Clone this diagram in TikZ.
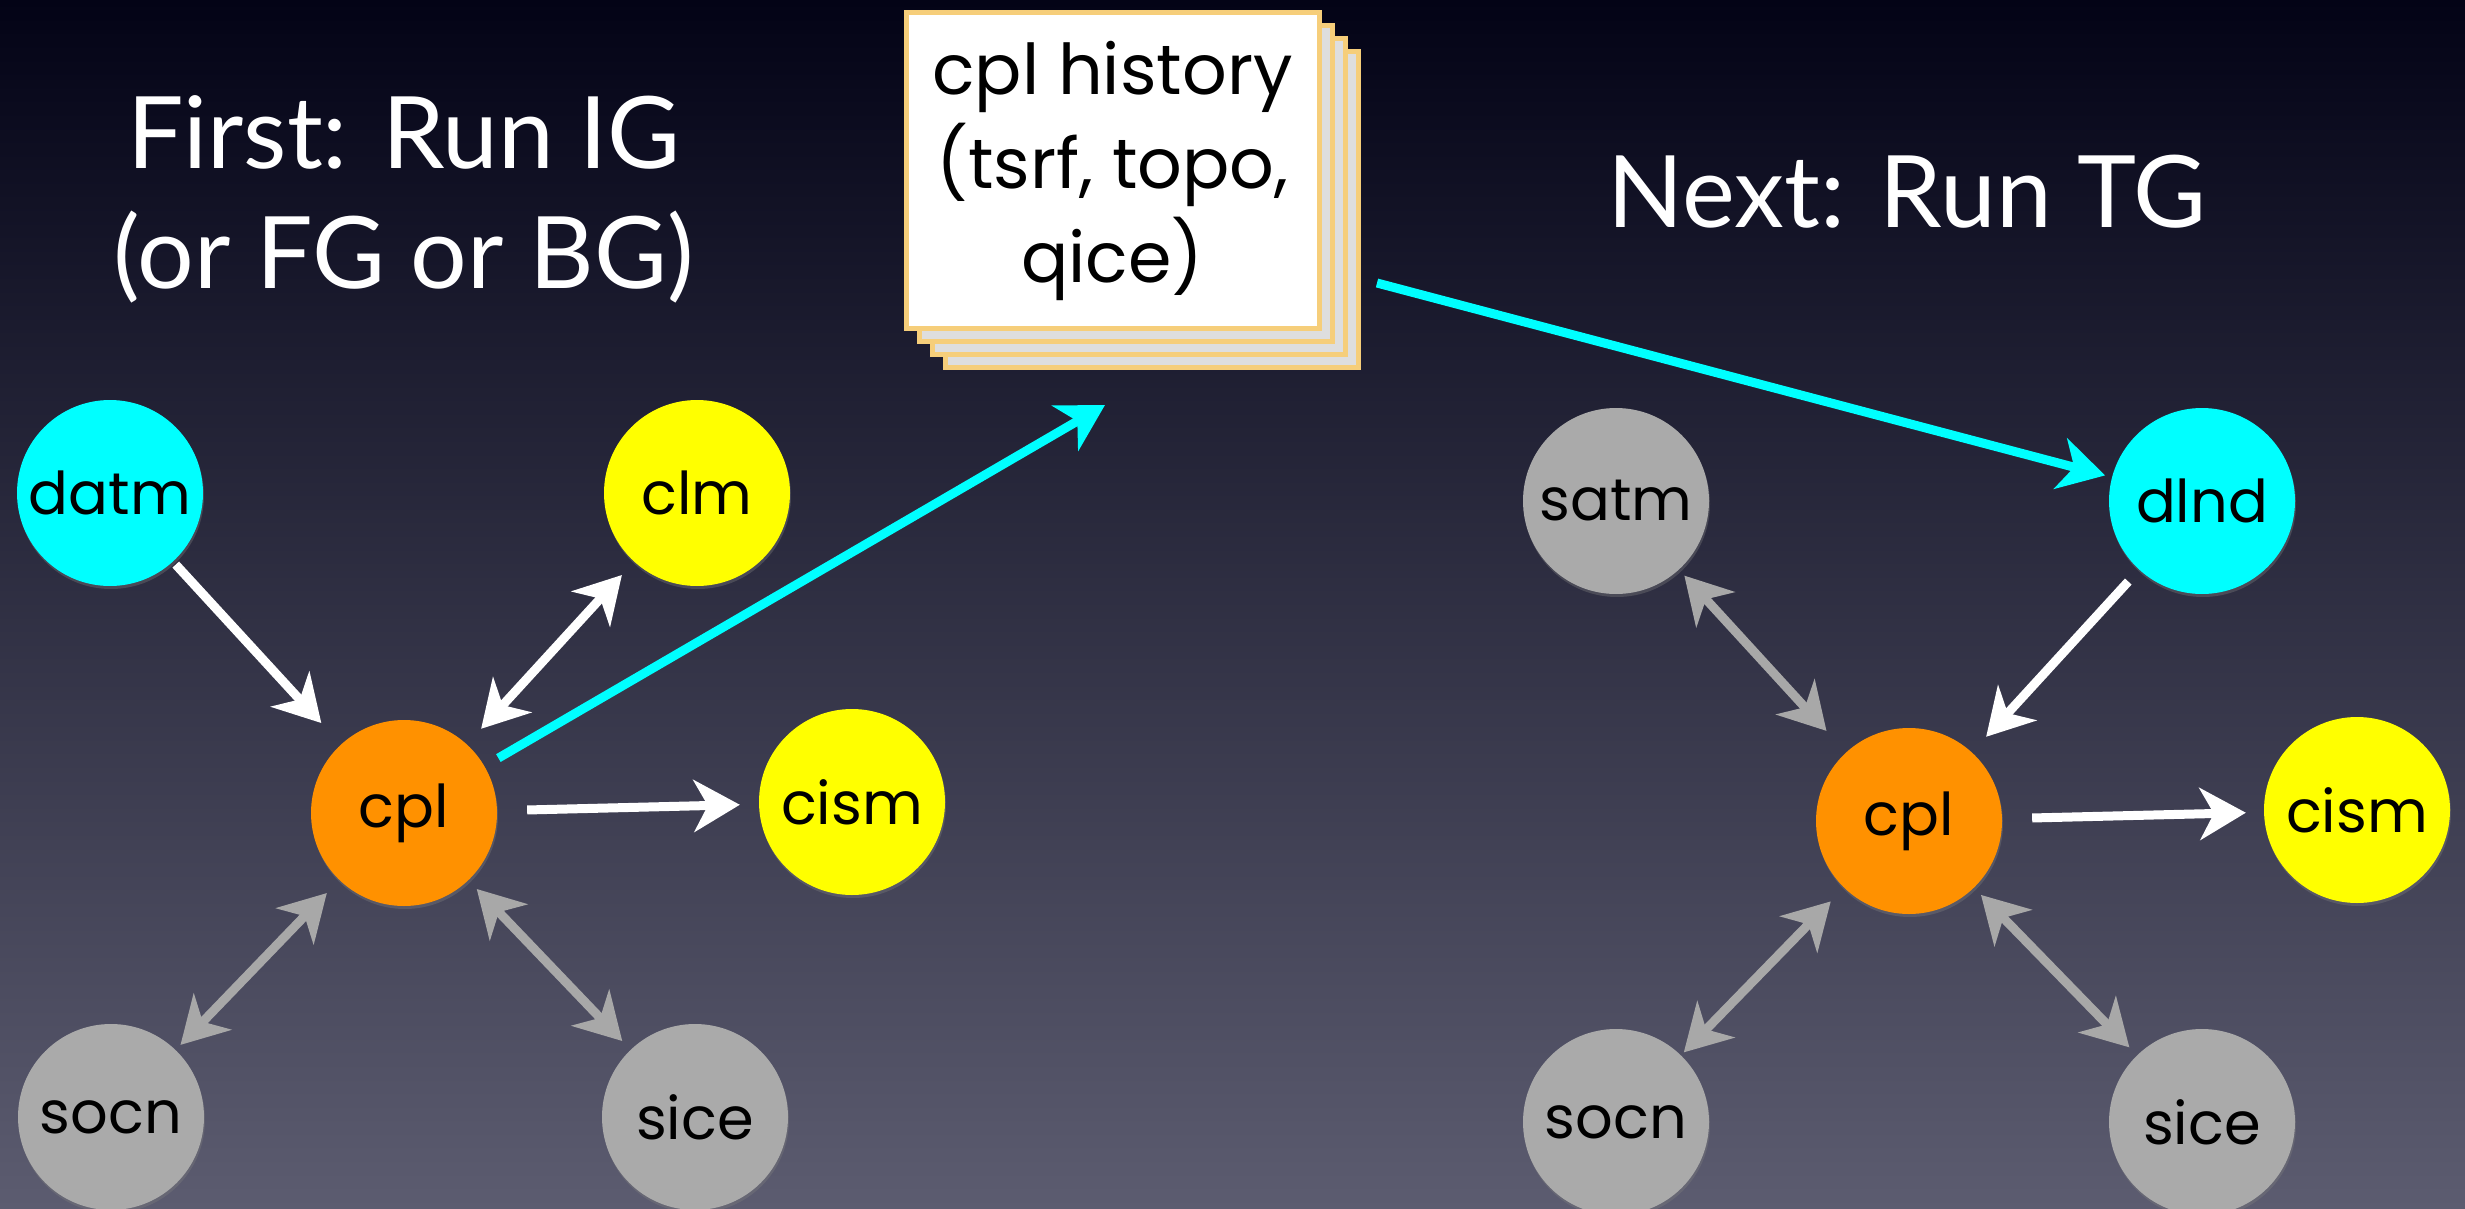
\documentclass[tikz,border=0pt]{standalone}
\usepackage{fontspec}
\setmainfont{Lato}
\newfontfamily\chalk{Poppins}
\usetikzlibrary{arrows.meta,shadows}

\definecolor{bgtop}{RGB}{3,3,22}
\definecolor{bgmid}{RGB}{48,48,72}
\definecolor{bgbot}{RGB}{92,92,112}
\definecolor{compcyan}{RGB}{0,255,255}
\definecolor{compyellow}{RGB}{255,255,0}
\definecolor{comporange}{RGB}{255,145,0}
\definecolor{compgray}{RGB}{170,170,170}
\definecolor{linkgray}{RGB}{168,168,168}
\definecolor{sheetedge}{RGB}{246,206,122}

\tikzset{
  comp/.style={circle, minimum size=186pt, inner sep=0pt,
               drop shadow={opacity=0.35, shadow xshift=1pt, shadow yshift=-3pt},
               font=\chalk\fontsize{59}{66}\selectfont},
  compdata/.style={comp, fill=compcyan},
  compactive/.style={comp, fill=compyellow},
  compstub/.style={comp, fill=compgray},
  compcpl/.style={comp, fill=comporange},
  flowline/.style={draw=white, line width=9pt},
  linkline/.style={draw=linkgray, line width=9pt},
  histline/.style={draw=compcyan, line width=9pt},
  sheet/.style={draw=sheetedge, line width=5pt, fill={rgb,255:red,222;green,222;blue,222}},
  slidetitle/.style={text=white, font=\fontsize{100}{120}\selectfont, align=center},
}

\begin{document}
\begin{tikzpicture}[x=1pt, y=-1pt, >={Stealth[length=46pt,width=52pt,inset=14pt]}]
    \useasboundingbox (0,0) rectangle (2465,1209);
    % Background:
    \shade[top color=bgtop, middle color=bgmid, bottom color=bgbot] (0,0) rectangle (2465,1209);

    % Titles (base = last line):
    \node[slidetitle, anchor=base] (first) at (404,288) {First: Run IG\\(or FG or BG)};
    \node[slidetitle, anchor=base] (next) at (1907,228) {Next: Run TG};

    % The stack of history files, back sheets first:
    \foreach \k in {3,2,1}{%
        \draw[sheet] (906+13*\k,13+13*\k) rectangle (1319+13*\k,328+13*\k);}
    \node[sheet, fill=white, minimum width=413pt, minimum height=315pt, align=center,
          font=\chalk\fontsize{70}{94}\selectfont] (hist) at (1112.5,170.5)
          {cpl history\\(tsrf, topo,\\qice)};
    \coordinate (histin) at (1105,405);
    \coordinate (histout) at (1377,283);

    % First run:
    \node[compdata]   (datm) at (110,493)  {datm};
    \node[compactive] (clm)  at (697,493)  {clm};
    \node[compcpl]    (cpl)  at (404,813)  {cpl};
    \node[compactive] (cism) at (852,802)  {cism};
    \node[compstub]   (socn) at (111,1117) {socn};
    \node[compstub]   (sice) at (695,1117) {sice};

    \draw[flowline, ->, shorten <=4pt, shorten >=29pt] (datm) -- (cpl);
    \draw[flowline, <->, shorten <=21pt, shorten >=18pt] (cpl) -- (clm);
    \draw[flowline, ->, shorten <=30pt, shorten >=19pt] (cpl) -- (cism);
    \draw[linkline, <->, shorten <=18pt, shorten >=7pt] (cpl) -- (socn);
    \draw[linkline, <->, shorten <=12pt, shorten >=12pt] (cpl) -- (sice);
    \draw[histline, ->, shorten <=16pt] (cpl) -- (histin);

    % Next run:
    \node[compstub]   (satm)  at (1616,501)  {satm};
    \node[compdata]   (dlnd)  at (2202,501)  {dlnd};
    \node[compcpl]    (cpl2)  at (1909,821)  {cpl};
    \node[compactive] (cism2) at (2357,810)  {cism};
    \node[compstub]   (socn2) at (1616,1122) {socn};
    \node[compstub]   (sice2) at (2202,1122) {sice};

    \draw[histline, ->, shorten >=7pt] (histout) -- (dlnd);
    \draw[flowline, ->, shorten <=16pt, shorten >=21pt] (dlnd) -- (cpl2);
    \draw[linkline, <->, shorten <=29pt, shorten >=8pt] (cpl2) -- (satm);
    \draw[flowline, ->, shorten <=30pt, shorten >=18pt] (cpl2) -- (cism2);
    \draw[linkline, <->, shorten <=19pt, shorten >=4pt] (cpl2) -- (socn2);
    \draw[linkline, <->, shorten <=10pt, shorten >=11pt] (cpl2) -- (sice2);
\end{tikzpicture}
\end{document}
